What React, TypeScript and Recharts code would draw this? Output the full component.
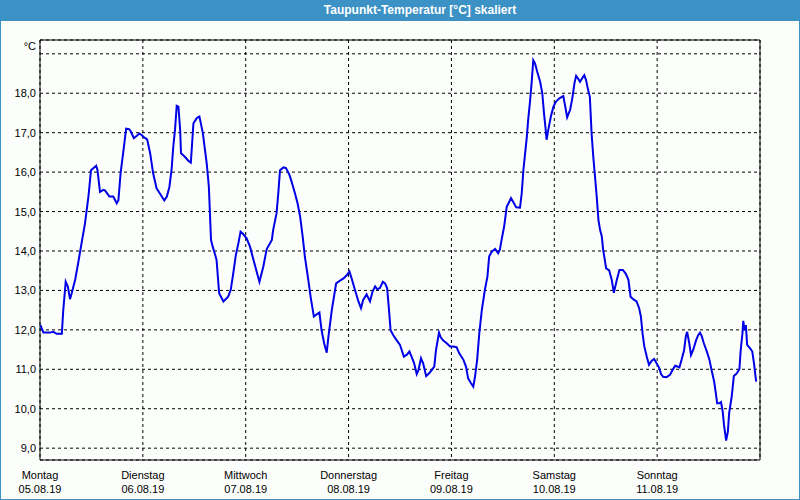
import React from 'react';
import { LineChart, Line, XAxis, YAxis, CartesianGrid, ReferenceArea } from 'recharts';

const TITLE = 'Taupunkt-Temperatur [°C] skaliert';
const UNIT = '°C';

// hours since Monday 05.08.19 00:00
const hours = [
  0.1, 0.8, 2.3, 3.1, 3.9, 5.1, 5.4, 6.0, 6.5, 7.0, 7.4, 8.2, 8.9, 9.7, 10.5, 11.3, 11.9, 13.1, 13.4, 14.0,
  14.8, 15.2, 16.2, 17.1, 17.9, 18.3, 18.8, 19.4, 20.1, 20.8, 21.2, 21.9, 22.6, 23.2, 23.7, 24.3, 25.0, 25.7,
  26.4, 27.2, 28.2, 29.0, 29.6, 30.2, 30.7, 31.1, 31.5, 31.9, 32.3, 32.7, 32.9, 33.8, 34.6, 35.2, 35.8, 36.6,
  37.2, 38.0, 38.5, 38.9, 39.4, 39.9, 40.3, 40.8, 41.2, 41.8, 42.8, 43.9, 44.5, 45.1, 45.7, 46.3, 46.8, 47.4,
  48.2, 49.0, 49.6, 50.2, 51.2, 52.1, 52.9, 53.7, 54.1, 54.4, 55.2, 55.6, 56.0, 56.8, 57.4, 58.2, 58.7, 59.5,
  60.1, 60.7, 61.3, 61.8, 62.6, 63.2, 63.9, 64.4, 65.2, 65.7, 66.3, 66.9, 67.3, 68.1, 69.1, 70.0, 70.9, 71.6,
  72.2, 72.7, 73.5, 74.3, 74.9, 75.4, 76.2, 77.0, 77.6, 78.2, 78.7, 79.3, 80.0, 80.5, 81.0, 81.5, 81.8, 82.4,
  83.2, 84.0, 84.4, 84.9, 85.6, 86.2, 86.7, 87.3, 87.9, 88.3, 88.9, 89.4, 90.1, 90.8, 91.4, 92.0, 92.4, 93.1,
  93.5, 94.1, 94.9, 95.7, 96.4, 97.2, 97.8, 98.8, 99.4, 99.9, 100.5, 101.1, 101.5, 102.0, 102.5, 103.1, 103.8,
  104.4, 104.8, 105.4, 106.2, 106.9, 107.3, 107.7, 108.3, 108.9, 109.5, 109.9, 110.4, 111.1, 112.0, 112.4,
  112.8, 113.2, 113.6, 113.9, 114.3, 114.7, 115.1, 115.5, 116.0, 116.7, 117.2, 117.6, 118.0, 118.2, 118.6,
  119.2, 119.8, 120.4, 121.2, 122.1, 122.5, 123.0, 123.7, 124.2, 124.7, 125.1, 125.5, 126.0, 126.5, 127.0,
  127.4, 127.9, 128.3, 128.7, 129.1, 129.5, 129.9, 130.3, 130.7, 131.1, 131.4, 131.8, 132.1, 132.8, 133.4,
  133.9, 134.6, 135.2, 136.0, 136.7, 137.3, 137.8, 138.4, 139.2, 139.8, 140.2, 140.6, 141.0, 141.6, 142.1,
  142.7, 143.3, 143.9, 144.5, 144.9, 145.4, 146.2, 147.0, 147.6, 148.2, 148.7, 149.2, 149.7, 150.3, 150.7,
  151.0, 151.5, 151.9, 152.4, 153.1, 153.6, 154.0, 154.4, 154.9, 155.6, 156.2, 156.7, 157.3, 157.7, 158.0,
  158.5, 158.9, 159.3, 159.6, 160.1, 160.5, 160.8, 161.4, 161.9, 162.6, 163.2, 163.5, 163.9, 164.1, 164.4,
  164.7, 165.0, 165.7, 166.2, 166.6, 167.1,
];

const dewPoint = [
  12.12, 11.93, 11.93, 11.95, 11.90, 11.90, 12.46, 13.22, 13.10, 12.78, 12.93, 13.27, 13.69, 14.20, 14.70, 15.38, 16.05, 16.16, 16.06, 15.50,
  15.55, 15.53, 15.38, 15.38, 15.21, 15.29, 15.97, 16.48, 17.10, 17.09, 17.03, 16.86, 16.92, 16.98, 16.94, 16.88, 16.83, 16.48,
  15.97, 15.59, 15.42, 15.28, 15.38, 15.63, 16.06, 16.65, 17.07, 17.68, 17.66, 17.07, 16.48, 16.39, 16.29, 16.24, 17.24, 17.37,
  17.41, 16.99, 16.56, 16.22, 15.63, 14.28, 14.11, 13.93, 13.77, 12.93, 12.72, 12.84, 13.01, 13.44, 13.90, 14.20, 14.49, 14.43,
  14.32, 14.11, 13.86, 13.62, 13.22, 13.60, 14.05, 14.20, 14.28, 14.53, 14.96, 15.46, 16.05, 16.12, 16.10, 15.93, 15.76, 15.46,
  15.21, 14.87, 14.36, 13.86, 13.27, 12.80, 12.34, 12.38, 12.44, 11.99, 11.66, 11.42, 11.83, 12.51, 13.18, 13.25, 13.31, 13.39,
  13.48, 13.31, 13.01, 12.72, 12.55, 12.76, 12.90, 12.72, 12.97, 13.10, 13.03, 13.06, 13.22, 13.18, 13.06, 12.42, 11.99, 11.87,
  11.74, 11.62, 11.49, 11.32, 11.37, 11.45, 11.32, 11.15, 10.88, 10.98, 11.28, 11.15, 10.83, 10.90, 10.98, 11.07, 11.49, 11.93,
  11.81, 11.73, 11.66, 11.58, 11.58, 11.56, 11.41, 11.24, 11.07, 10.77, 10.66, 10.56, 10.81, 11.24, 11.91, 12.51, 13.01,
  13.35, 13.86, 13.98, 14.05, 13.94, 14.03, 14.28, 14.62, 15.12, 15.25, 15.34, 15.25, 15.11, 15.10, 15.46,
  16.06, 16.48, 16.90, 17.32, 17.75, 18.25, 18.84, 18.76, 18.55, 18.29, 18.00, 17.49, 17.07, 16.82, 17.07,
  17.41, 17.66, 17.79, 17.87, 17.93, 17.70, 17.39, 17.58, 17.87, 18.25, 18.44, 18.38, 18.29, 18.38, 18.46,
  18.34, 18.08, 17.91, 16.99, 16.39, 15.89, 15.38, 14.79, 14.53, 14.36, 14.03, 13.77, 13.56, 13.51, 13.27,
  12.94, 13.27, 13.52, 13.52, 13.42, 13.27, 12.84, 12.78, 12.72, 12.55, 12.34, 11.91, 11.58, 11.31, 11.11,
  11.21, 11.26, 11.15, 11.03, 10.88, 10.81, 10.80, 10.86, 10.98, 11.09, 11.07, 11.05, 11.24, 11.49, 11.84,
  11.95, 11.66, 11.36, 11.49, 11.74, 11.87, 11.93, 11.84, 11.66, 11.45, 11.24, 10.98, 10.69, 10.39, 10.14,
  10.14, 10.17, 9.93, 9.59, 9.19, 9.42, 9.89, 10.31, 10.83, 10.90, 11.01, 11.49, 11.91, 12.23, 11.99,
  12.12, 11.62, 11.53, 11.45, 11.15, 10.69,
];

const xTicks = [0, 24, 48, 72, 96, 120, 144, 168];
const dayNames = ['Montag', 'Dienstag', 'Mittwoch', 'Donnerstag', 'Freitag', 'Samstag', 'Sonntag'];
const dayDates = ['05.08.19', '06.08.19', '07.08.19', '08.08.19', '09.08.19', '10.08.19', '11.08.19'];
const yTicks = [9, 10, 11, 12, 13, 14, 15, 16, 17, 18, 19];
const yDomain = [8.7, 19.35];

const data = hours.map((h, i) => ({ h, v: dewPoint[i] }));

const FONT = '"Liberation Sans", Arial, sans-serif';
const BLUE_FRAME = '#3c91c5';

const XTick = (props: any) => {
  const { x, y, index } = props;
  if (index >= dayNames.length) return null;
  return (
    <g>
      <text x={x} y={y + 19} textAnchor="middle" fontFamily={FONT} fontSize={11} fill="#000">
        {dayNames[index]}
      </text>
      <text x={x} y={y + 33} textAnchor="middle" fontFamily={FONT} fontSize={11} fill="#000">
        {dayDates[index]}
      </text>
    </g>
  );
};

const YTick = (props: any) => {
  const { x, y, payload } = props;
  const top = payload.value === yTicks[yTicks.length - 1];
  return (
    <text x={x} y={top ? y - 8 : y} dy="0.36em" textAnchor="end" fontFamily={FONT} fontSize={11} fill="#000">
      {top ? UNIT : payload.value.toFixed(1).replace('.', ',')}
    </text>
  );
};

export default function App() {
  return (
    <div
      style={{
        position: 'absolute',
        left: 0,
        top: 0,
        width: 800,
        height: 500,
        background: '#fcfefc',
        boxShadow: `inset 1px 0 0 ${BLUE_FRAME}, inset -1px 0 0 ${BLUE_FRAME}, inset 0 -1px 0 ${BLUE_FRAME}`,
        overflow: 'hidden',
      }}
    >
      <div
        style={{
          position: 'absolute',
          left: 0,
          top: 0,
          width: 800,
          height: 21,
          background: BLUE_FRAME,
        }}
      >
        <div
          style={{
            position: 'absolute',
            left: 420,
            top: 0,
            transform: 'translateX(-50%)',
            whiteSpace: 'nowrap',
            color: '#fff',
            fontFamily: FONT,
            fontWeight: 'bold',
            fontSize: 12,
            lineHeight: '20px',
          }}
        >
          {TITLE}
        </div>
      </div>
      <div style={{ position: 'absolute', left: 0, top: 0 }}>
        <LineChart width={800} height={500} data={data} margin={{ top: 40, right: 40, left: 0, bottom: 0 }}>
          <CartesianGrid stroke="#000" strokeDasharray="3 3" strokeWidth={1} />
          <XAxis
            dataKey="h"
            type="number"
            domain={[0, 168]}
            ticks={xTicks}
            height={40}
            axisLine={false}
            tickLine={false}
            tickSize={0}
            tickMargin={0}
            tick={<XTick />}
            interval={0}
          />
          <YAxis
            type="number"
            domain={yDomain}
            ticks={yTicks}
            allowDataOverflow
            width={40}
            axisLine={false}
            tickLine={false}
            tickSize={0}
            tickMargin={4}
            tick={<YTick />}
            interval={0}
          />
          <ReferenceArea x1={0} x2={168} fill="none" stroke="#000" strokeWidth={1} fillOpacity={0} ifOverflow="extendDomain" />
          <Line
            type="linear"
            dataKey="v"
            stroke="#0000e6"
            strokeWidth={2}
            dot={false}
            isAnimationActive={false}
          />
        </LineChart>
      </div>
    </div>
  );
}
